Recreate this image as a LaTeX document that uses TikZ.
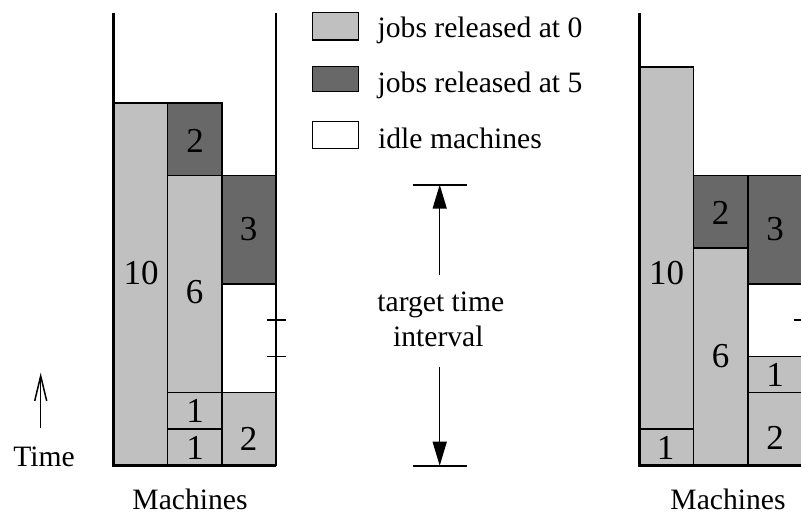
\documentclass[tikz,border=0pt]{standalone}
\usepackage{fontspec}
\setmainfont{Liberation Serif}
\usetikzlibrary{arrows.meta}
\definecolor{lightjob}{RGB}{192,192,192}
\definecolor{darkjob}{RGB}{104,104,104}
\begin{document}
\begin{tikzpicture}[x=0.5pt,y=-0.5pt,
  job/.style={draw=black,line width=0.75pt},
  lj/.style={job,fill=lightjob},
  dj/.style={job,fill=darkjob},
  wj/.style={job,fill=white},
  axisline/.style={line width=1.5pt},
  rline/.style={line width=0.8pt},
  lbl/.style={font=\fontsize{14.8}{17}\selectfont, inner sep=0pt},
  num/.style={font=\fontsize{17.5}{20}\selectfont, inner sep=0pt},
  bigarrow/.style={line width=0.75pt,-{Triangle[length=12pt,width=7pt]}},
  timearrow/.style={line width=0.75pt,-{Straight Barb[length=12.5pt,width=6pt]}},
]
\useasboundingbox (0,0) rectangle (801,518);

% ---------- left diagram ----------
\path[lj] (113,465) rectangle (167.7,103);
\path[lj] (167.7,465) rectangle (222,428.8);
\path[lj] (167.7,428.8) rectangle (222,392.6);
\path[lj] (167.7,392.6) rectangle (222,175.4);
\path[dj] (167.7,175.4) rectangle (222,103);
\path[lj] (222,465) rectangle (276,392.6);
\path[dj] (222,284) rectangle (276,175.4);
\draw[rline] (276,13) -- (276,465);
\draw[axisline] (113,12.7) -- (113,465) -- (276,465);
\draw[rline] (267,320.2) -- (285.7,320.2);
\draw[rline] (267,356.4) -- (285.7,356.4);

\node[num] (l10) at (141.2,273.5) {10};
\node[num] (l2d) at (195,140.5) {2};
\node[num] (l6) at (194.5,292.5) {6};
\node[num] (l3) at (248.5,229.5) {3};
\node[num] (l1a) at (195,411.2) {1};
\node[num] (l1b) at (195,447.8) {1};
\node[num] (l2) at (248.5,439) {2};
\node[lbl,anchor=base] (mach1) at (190,509) {Machines};

% ---------- right diagram ----------
\path[lj] (639.3,465) rectangle (693.7,428.8);
\path[lj] (639.3,428.8) rectangle (693.7,66.8);
\path[lj] (693.7,465) rectangle (748.2,247.8);
\path[dj] (693.7,247.8) rectangle (748.2,175.4);
\path[lj] (748.2,465) rectangle (802.6,392.6);
\path[lj] (748.2,392.6) rectangle (802.6,356.4);
\path[dj] (748.2,284) rectangle (802.6,175.4);
\draw[rline] (802.6,13) -- (802.6,465);
\draw[rline] (793.6,320.2) -- (811.6,320.2);
\draw[axisline] (639.3,12.7) -- (639.3,465) -- (812,465);

\node[num] (r10) at (666.5,273.5) {10};
\node[num] (r1) at (665.5,447.8) {1};
\node[num] (r2d) at (720.7,212.8) {2};
\node[num] (r6) at (720.7,356.2) {6};
\node[num] (r3) at (775,229.5) {3};
\node[num] (r1b) at (775,374.5) {1};
\node[num] (r2) at (775,438) {2};
\node[lbl,anchor=base] (mach2) at (728,509) {Machines};

% ---------- legend ----------
\path[lj] (312.7,12.7) rectangle (358.3,40);
\path[dj] (312.7,66.7) rectangle (358.3,91.7);
\path[wj] (312.7,121.7) rectangle (358.3,148.3);
\node[lbl,anchor=base west] (leg1) at (377.3,37.3) {jobs released at 0};
\node[lbl,anchor=base west] (leg2) at (377.3,92.7) {jobs released at 5};
\node[lbl,anchor=base west] (leg3) at (377.8,148.3) {idle machines};

% ---------- target time interval ----------
\coordinate (ttop) at (439.7,184.7);
\coordinate (tbot) at (439.7,465.7);
\coordinate (astart) at (439.7,275);
\coordinate (bstart) at (439.7,366.7);
\draw[rline] (412.7,184.7) -- (466.7,184.7);
\draw[rline] (412.7,465.7) -- (466.7,465.7);
\draw[bigarrow] (astart) -- (ttop);
\draw[bigarrow] (bstart) -- (tbot);
\node[lbl,anchor=base] (tt1) at (440.8,311.7) {target time};
\node[lbl,anchor=base] (tt2) at (438.3,346.7) {interval};

% ---------- time arrow ----------
\coordinate (tarrs) at (40.7,428);
\coordinate (tarre) at (40.7,372.7);
\draw[timearrow] (tarrs) -- (tarre);
\node[lbl,anchor=base] (time) at (44,466) {Time};
\end{tikzpicture}
\end{document}
